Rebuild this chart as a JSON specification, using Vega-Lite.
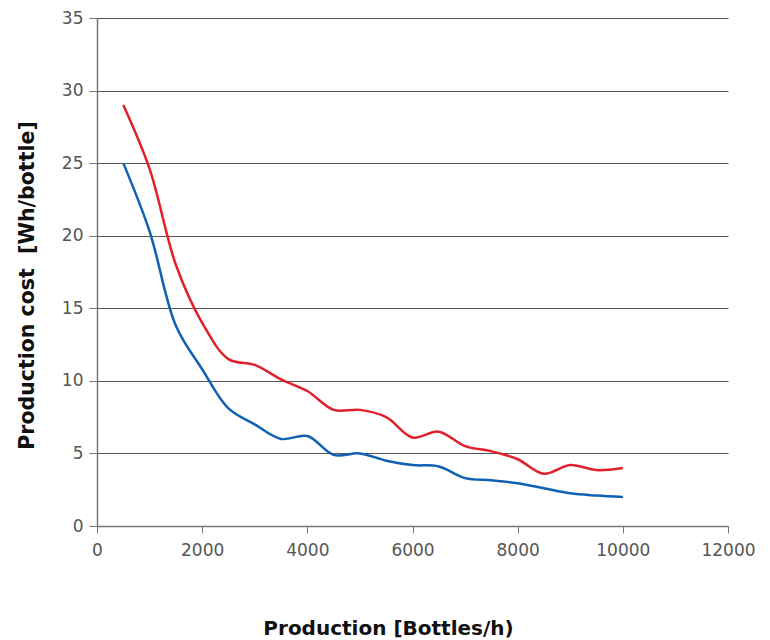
{
  "$schema": "https://vega.github.io/schema/vega-lite/v6.json",
  "width": 631,
  "height": 508,
  "autosize": {"type": "none"},
  "padding": {"left": 97, "top": 18, "right": 42, "bottom": 114},
  "background": "white",
  "config": {"view": {"stroke": null}},
  "data": {"values": [
    {"x": 500, "y": 29.0, "s": "A"}, {"x": 1000, "y": 24.6, "s": "A"}, {"x": 1500, "y": 18.0, "s": "A"}, {"x": 2000, "y": 14.0, "s": "A"},
    {"x": 2500, "y": 11.5, "s": "A"}, {"x": 3000, "y": 11.1, "s": "A"}, {"x": 3500, "y": 10.1, "s": "A"}, {"x": 4000, "y": 9.3, "s": "A"},
    {"x": 4500, "y": 8.0, "s": "A"}, {"x": 5000, "y": 8.0, "s": "A"}, {"x": 5500, "y": 7.5, "s": "A"}, {"x": 6000, "y": 6.1, "s": "A"},
    {"x": 6500, "y": 6.5, "s": "A"}, {"x": 7000, "y": 5.5, "s": "A"}, {"x": 7500, "y": 5.15, "s": "A"}, {"x": 8000, "y": 4.6, "s": "A"},
    {"x": 8500, "y": 3.6, "s": "A"}, {"x": 9000, "y": 4.2, "s": "A"}, {"x": 9500, "y": 3.85, "s": "A"}, {"x": 10000, "y": 4.0, "s": "A"},
    {"x": 500, "y": 25.0, "s": "B"}, {"x": 1000, "y": 20.3, "s": "B"}, {"x": 1500, "y": 13.8, "s": "B"}, {"x": 2000, "y": 10.8, "s": "B"},
    {"x": 2500, "y": 8.1, "s": "B"}, {"x": 3000, "y": 7.0, "s": "B"}, {"x": 3500, "y": 6.0, "s": "B"}, {"x": 4000, "y": 6.2, "s": "B"},
    {"x": 4500, "y": 4.9, "s": "B"}, {"x": 5000, "y": 5.0, "s": "B"}, {"x": 5500, "y": 4.5, "s": "B"}, {"x": 6000, "y": 4.2, "s": "B"},
    {"x": 6500, "y": 4.1, "s": "B"}, {"x": 7000, "y": 3.3, "s": "B"}, {"x": 7500, "y": 3.15, "s": "B"}, {"x": 8000, "y": 2.95, "s": "B"},
    {"x": 8500, "y": 2.6, "s": "B"}, {"x": 9000, "y": 2.25, "s": "B"}, {"x": 9500, "y": 2.1, "s": "B"}, {"x": 10000, "y": 2.0, "s": "B"}
  ]},
  "mark": {"type": "line", "interpolate": "catmull-rom", "strokeWidth": 2.5},
  "encoding": {
    "x": {
      "field": "x", "type": "quantitative",
      "scale": {"domain": [0, 12000], "nice": false},
      "axis": {
        "title": "Production [Bottles/h)",
        "values": [0, 2000, 4000, 6000, 8000, 10000, 12000],
        "format": "d",
        "grid": false,
        "domainColor": "#777", "domainWidth": 1.5,
        "tickColor": "#777", "tickSize": 7, "tickWidth": 1,
        "labelFont": "DejaVu Sans", "labelFontSize": 17, "labelColor": "#555", "labelPadding": 9,
        "labelFlush": false,
        "titleFont": "DejaVu Sans", "titleFontSize": 20, "titleFontWeight": "bold", "titleColor": "#111",
        "titleX": 291, "titleY": 102, "titleBaseline": "middle", "titleAlign": "center"
      }
    },
    "y": {
      "field": "y", "type": "quantitative",
      "scale": {"domain": [0, 35], "nice": false},
      "axis": {
        "title": "Production cost\u00a0\u00a0[Wh/bottle]",
        "values": [0, 5, 10, 15, 20, 25, 30, 35],
        "grid": true, "gridColor": "#555", "gridWidth": 1.2,
        "domainColor": "#777", "domainWidth": 1.5,
        "tickColor": "#777", "tickSize": 8, "tickWidth": 1,
        "labelFont": "DejaVu Sans", "labelFontSize": 17, "labelColor": "#555", "labelPadding": 6,
        "labelFlush": false,
        "titleFont": "DejaVu Sans", "titleFontSize": 20.5, "titleFontWeight": "bold", "titleColor": "#111",
        "titleX": -70, "titleY": 267, "titleBaseline": "middle", "titleAlign": "center", "titleAngle": -90
      }
    },
    "color": {
      "field": "s", "type": "nominal",
      "scale": {"domain": ["A", "B"], "range": ["#e0202a", "#1060b4"]},
      "legend": null
    }
  }
}
